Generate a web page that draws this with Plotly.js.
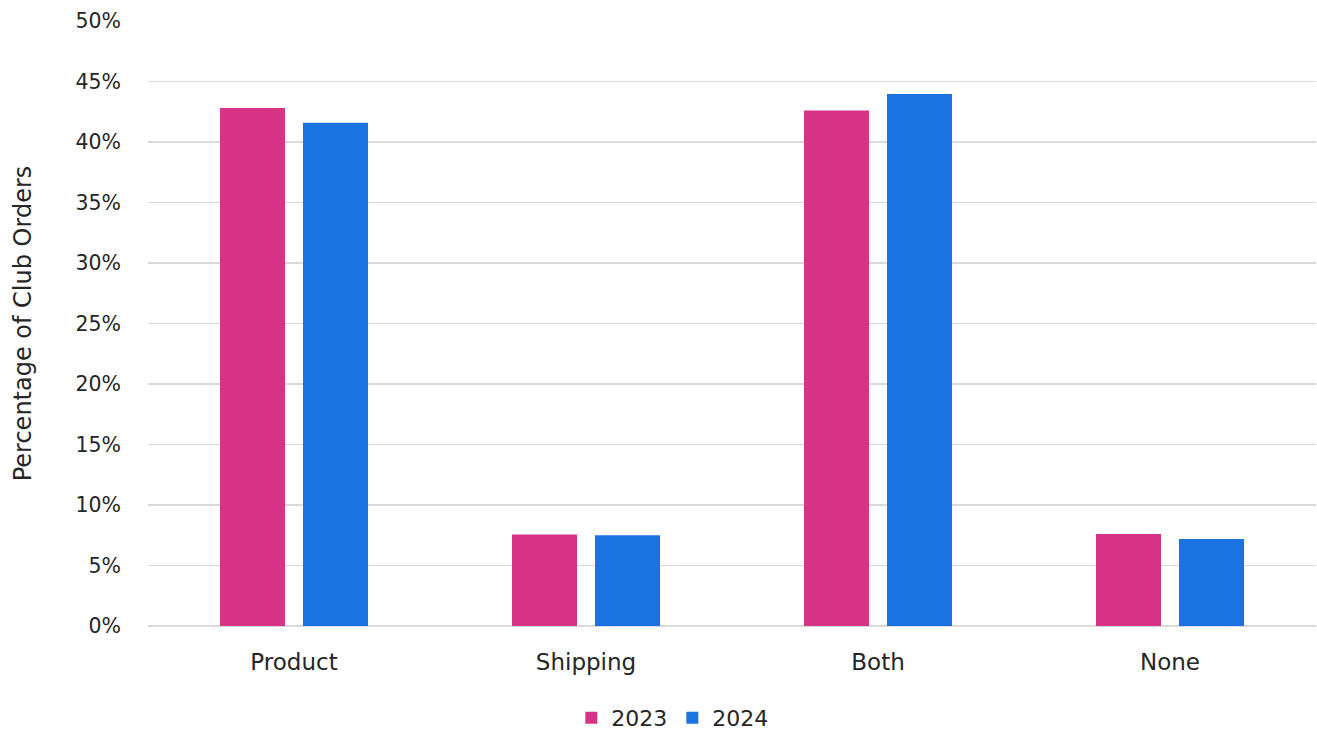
<!DOCTYPE html>
<html>
<head>
<meta charset="utf-8">
<script src="https://cdn.plot.ly/plotly-3.0.1.min.js"></script>
<style>html,body{margin:0;padding:0;background:#fff;}#chart{width:1317px;height:730px;}</style>
</head>
<body>
<div id="chart"></div>
<script>
const categories = ["Product", "Shipping", "Both", "None"];
const series2023 = [0.428, 0.0757, 0.426, 0.076];
const series2024 = [0.416, 0.0749, 0.4397, 0.072];
const seriesNames = ["2023", "2024"];
const yTickVals = [0, 0.05, 0.10, 0.15, 0.20, 0.25, 0.30, 0.35, 0.40, 0.45, 0.50];
const yTickText = ["0%", "5%", "10%", "15%", "20%", "25%", "30%", "35%", "40%", "45%", "50%"];

const FONT = "'DejaVu Sans', Lato, sans-serif";
const TXT = "#262626";
const data = [
  {type: "bar", name: seriesNames[0], x: categories, y: series2023, marker: {color: "#D63384"}, hoverinfo: "skip"},
  {type: "bar", name: seriesNames[1], x: categories, y: series2024, marker: {color: "#1A73E0"}, hoverinfo: "skip"}
];
const layout = {
  width: 1317, height: 730,
  paper_bgcolor: "#ffffff", plot_bgcolor: "#ffffff",
  font: {family: FONT, size: 21, color: TXT},
  margin: {l: 148, r: 1, t: 21, b: 104, pad: 0, autoexpand: false},
  barmode: "group",
  bargap: 0.4315,
  bargroupgap: 0.217,
  showlegend: true,
  legend: {orientation: "h", x: 0.5105, xref: "container", xanchor: "center",
           y: 0.0164, yref: "container", yanchor: "middle",
           font: {family: FONT, size: 22, color: TXT}, itemwidth: 30, traceorder: "normal"},
  xaxis: {type: "category", showgrid: false, zeroline: false, showline: false, ticks: "",
          tickfont: {family: FONT, size: 23, color: TXT}, ticklabelstandoff: 20},
  yaxis: {range: [0, 0.5], tickvals: yTickVals, ticktext: yTickText, showgrid: true,
          gridcolor: "#d9d9d9", gridwidth: 1.5, zeroline: true, zerolinecolor: "#d9d9d9", zerolinewidth: 1.5,
          showline: false, ticks: "", ticklabelstandoff: 26,
          tickfont: {family: FONT, size: 20.5, color: TXT},
          title: {text: "Percentage of Club Orders", font: {family: FONT, size: 24, color: TXT}, standoff: 37}}
};
Plotly.newPlot("chart", data, layout, {displayModeBar: false, staticPlot: true});
</script>
</body>
</html>
